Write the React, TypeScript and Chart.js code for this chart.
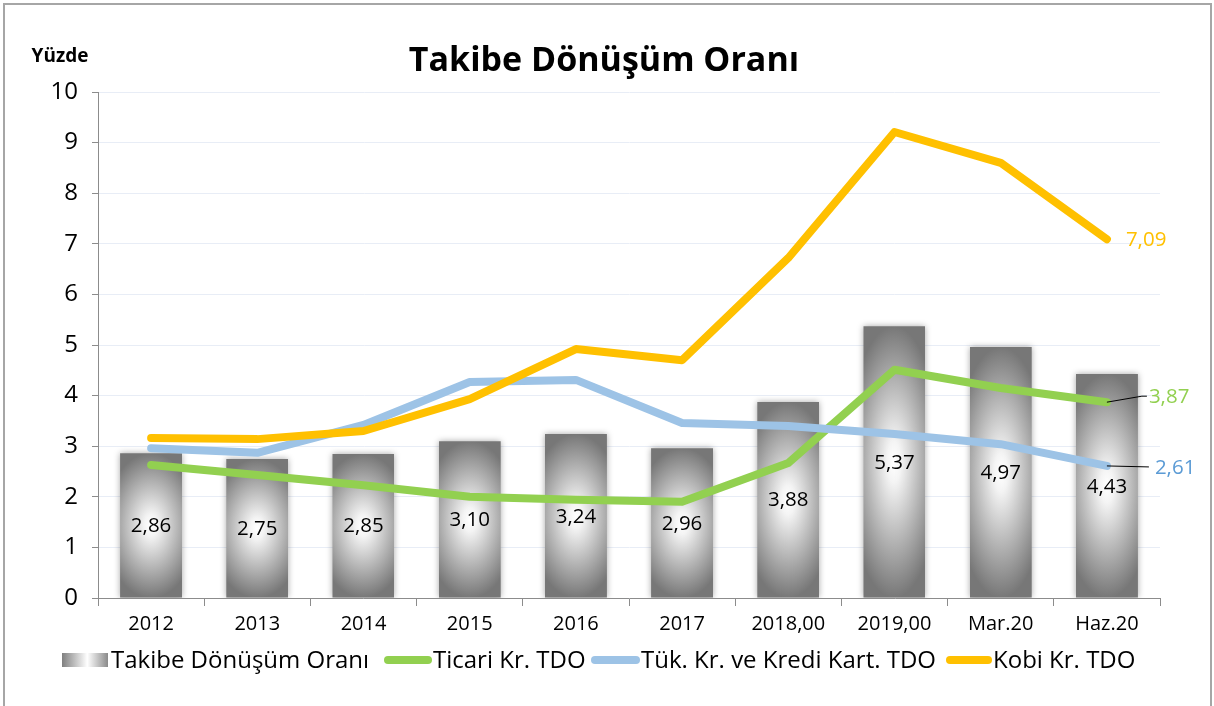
import React, { useEffect, useRef } from "react";
import { Chart, registerables } from "chart.js";

Chart.register(...registerables);

const categories = ["2012", "2013", "2014", "2015", "2016", "2017", "2018,00", "2019,00", "Mar.20", "Haz.20"];
const tdoValues = [2.86, 2.75, 2.85, 3.10, 3.24, 2.96, 3.88, 5.37, 4.97, 4.43];
const ticariValues = [2.63, 2.43, 2.23, 2.00, 1.94, 1.90, 2.67, 4.51, 4.15, 3.87];
const tukValues = [2.96, 2.87, 3.42, 4.27, 4.31, 3.46, 3.40, 3.24, 3.04, 2.61];
const kobiValues = [3.16, 3.14, 3.30, 3.93, 4.92, 4.70, 6.72, 9.21, 8.60, 7.09];
const seriesNames = ["Takibe Dönüşüm Oranı", "Ticari Kr. TDO", "Tük. Kr. ve Kredi Kart. TDO", "Kobi Kr. TDO"];
const yMin = 0;
const yMax = 10;
const yStep = 1;
const titleText = "Takibe Dönüşüm Oranı";
const yAxisTitle = "Yüzde";

const FONT = "'Open Sans', 'DejaVu Sans', sans-serif";
const GREEN = "#92D050";
const BLUE = "#9DC3E6";
const BLUE_TEXT = "#5B9BD5";
const ORANGE = "#FFC000";

const fmt = (v: number) => v.toFixed(2).replace(".", ",");

const BAR_PCT = 0.584;

function barPattern(ctx2d: CanvasRenderingContext2D, x: number, y: number, w: number, h: number) {
  const W = Math.max(1, Math.round(w));
  const H = Math.max(1, Math.round(h));
  const off = document.createElement("canvas");
  off.width = W;
  off.height = H;
  const c = off.getContext("2d")!;
  c.save();
  c.translate(W / 2, H / 2);
  c.scale((W / 2) * 1.5, H / 2);
  const g = c.createRadialGradient(0, 0, 0, 0, 0, 1);
  g.addColorStop(0, "#ffffff");
  g.addColorStop(0.15, "#f4f4f4");
  g.addColorStop(1, "#777777");
  c.fillStyle = g;
  c.fillRect(-2, -2, 4, 4);
  c.restore();
  const p = ctx2d.createPattern(off, "no-repeat")!;
  p.setTransform(new DOMMatrix([1, 0, 0, 1, Math.round(x), Math.round(y)]));
  return p;
}

const decorPlugin = {
  id: "decor",
  beforeDatasetDraw(chart: any, args: any) {
    if (args.index === 0) {
      const ctx = chart.ctx;
      ctx.shadowColor = "rgba(0,0,0,0.35)";
      ctx.shadowBlur = 6;
      ctx.shadowOffsetX = 0;
      ctx.shadowOffsetY = 0;
    }
  },
  afterDatasetDraw(chart: any, args: any) {
    if (args.index === 0) {
      const ctx = chart.ctx;
      ctx.shadowColor = "rgba(0,0,0,0)";
      ctx.shadowBlur = 0;
    }
  },
  afterDatasetsDraw(chart: any) {
    const ctx = chart.ctx;
    ctx.save();
    // bar labels
    const barMeta = chart.getDatasetMeta(0);
    ctx.font = `20.5px ${FONT}`;
    ctx.fillStyle = "#000";
    ctx.textAlign = "center";
    ctx.textBaseline = "middle";
    barMeta.data.forEach((el: any, i: number) => {
      const p = el.getProps(["x", "y", "base"], true);
      ctx.fillText(fmt(tdoValues[i]), p.x, (p.y + p.base) / 2 + 1);
    });
    // end labels
    const last = categories.length - 1;
    const gPt = chart.getDatasetMeta(1).data[last];
    const bPt = chart.getDatasetMeta(2).data[last];
    const oPt = chart.getDatasetMeta(3).data[last];
    ctx.textAlign = "left";
    ctx.font = `20.5px ${FONT}`;
    ctx.fillStyle = ORANGE;
    ctx.fillText(fmt(kobiValues[last]), oPt.x + 19, oPt.y + 1);

    ctx.strokeStyle = "#000";
    ctx.lineWidth = 1;
    ctx.beginPath();
    ctx.moveTo(gPt.x, gPt.y);
    ctx.lineTo(gPt.x + 35, gPt.y - 6);
    ctx.lineTo(gPt.x + 40, gPt.y - 6);
    ctx.stroke();
    ctx.fillStyle = GREEN;
    ctx.fillText(fmt(ticariValues[last]), gPt.x + 42, gPt.y - 5);

    ctx.beginPath();
    ctx.moveTo(bPt.x, bPt.y);
    ctx.lineTo(bPt.x + 42, bPt.y + 1);
    ctx.stroke();
    ctx.fillStyle = BLUE_TEXT;
    ctx.fillText(fmt(tukValues[last]), bPt.x + 48, bPt.y + 2);
    ctx.restore();
  },
  afterDraw(chart: any) {
    const ctx = chart.ctx;
    ctx.save();
    // outer frame
    ctx.strokeStyle = "#a6a6a6";
    ctx.lineWidth = 2;
    ctx.strokeRect(4, 4, 1207, 740);
    // title
    ctx.fillStyle = "#000";
    ctx.textAlign = "center";
    ctx.textBaseline = "middle";
    ctx.font = `bold 34px ${FONT}`;
    ctx.fillText(titleText, 604, 61);
    ctx.font = `bold 19px ${FONT}`;
    ctx.fillText(yAxisTitle, 60, 57);
    // legend
    ctx.textAlign = "left";
    ctx.font = `24px ${FONT}`;
    const ly = 660;
    const lg = ctx.createLinearGradient(62, 0, 108, 0);
    lg.addColorStop(0, "#7f7f7f");
    lg.addColorStop(0.55, "#ffffff");
    lg.addColorStop(1, "#8a8a8a");
    ctx.fillStyle = lg;
    ctx.fillRect(62, ly - 7, 46, 14);
    ctx.fillStyle = "#000";
    ctx.fillText(seriesNames[0], 111, ly + 1);
    const lines = [
      { x0: 388, x1: 428, c: GREEN, tx: 433, t: seriesNames[1] },
      { x0: 595, x1: 636, c: BLUE, tx: 641, t: seriesNames[2] },
      { x0: 950, x1: 988, c: ORANGE, tx: 993, t: seriesNames[3] },
    ];
    ctx.lineCap = "round";
    ctx.lineWidth = 8;
    lines.forEach((l) => {
      ctx.strokeStyle = l.c;
      ctx.beginPath();
      ctx.moveTo(l.x0, ly);
      ctx.lineTo(l.x1, ly);
      ctx.stroke();
      ctx.fillStyle = "#000";
      ctx.fillText(l.t, l.tx, ly + 1);
    });
    ctx.restore();
  },
};

export default function App() {
  const ref = useRef<HTMLCanvasElement | null>(null);
  useEffect(() => {
    if (!ref.current) return;
    const lineDs = (label: string, data: number[], color: string, order: number) => ({
      type: "line" as const,
      label,
      data,
      borderColor: color,
      backgroundColor: color,
      borderWidth: 8,
      pointRadius: 0,
      pointHoverRadius: 0,
      tension: 0,
      fill: false,
      order,
      borderJoinStyle: "round" as const,
      borderCapStyle: "round" as const,
    });
    const chart = new Chart(ref.current, {
      type: "bar",
      data: {
        labels: categories,
        datasets: [
          {
            type: "bar",
            label: seriesNames[0],
            data: tdoValues,
            order: 4,
            barPercentage: BAR_PCT,
            categoryPercentage: 1,
            borderWidth: 0,
            backgroundColor: (c: any) => {
              const ch = c.chart;
              if (c.type !== "data" || !ch.chartArea || !ch.scales.x || !ch.scales.y) return "#aaaaaa";
              const xs = ch.scales.x;
              const ys = ch.scales.y;
              const cx = xs.getPixelForValue(c.dataIndex);
              const top = ys.getPixelForValue(c.raw);
              const base = ys.getPixelForValue(0);
              const w = (xs.width / categories.length) * BAR_PCT;
              return barPattern(ch.ctx, cx - w / 2, top, w, base - top);
            },
          } as any,
          lineDs(seriesNames[1], ticariValues, GREEN, 3),
          lineDs(seriesNames[2], tukValues, BLUE, 2),
          lineDs(seriesNames[3], kobiValues, ORANGE, 1),
        ],
      },
      options: {
        responsive: false,
        animation: false,
        events: [],
        layout: { padding: { left: 20, right: 54, top: 92, bottom: 68 } },
        plugins: { legend: { display: false }, title: { display: false }, tooltip: { enabled: false } },
        scales: {
          x: {
            type: "category",
            offset: true,
            afterFit: (s: any) => { s.height = 40; },
            grid: { display: true, drawOnChartArea: false, drawTicks: true, tickLength: 8, color: "#8c8c8c", offset: true },
            border: { display: true, color: "#8c8c8c", width: 1 },
            ticks: { color: "#000", font: { family: FONT, size: 20 }, padding: 6, maxRotation: 0, autoSkip: false },
          },
          y: {
            min: yMin,
            max: yMax,
            afterFit: (s: any) => { s.width = 78; },
            grid: { color: "#e8edf6", lineWidth: 1, drawTicks: true, tickLength: 6, tickColor: "#8c8c8c" },
            border: { display: true, color: "#8c8c8c", width: 1 },
            ticks: { stepSize: yStep, color: "#000", font: { family: FONT, size: 24 }, padding: 14 },
          },
        },
      },
      plugins: [decorPlugin],
    } as any);
    return () => chart.destroy();
  }, []);
  return (
    <div style={{ position: "absolute", left: 0, top: 0, width: 1214, height: 706, background: "#fff" }}>
      <canvas ref={ref} width={1214} height={706} style={{ display: "block", width: 1214, height: 706 }} />
    </div>
  );
}
